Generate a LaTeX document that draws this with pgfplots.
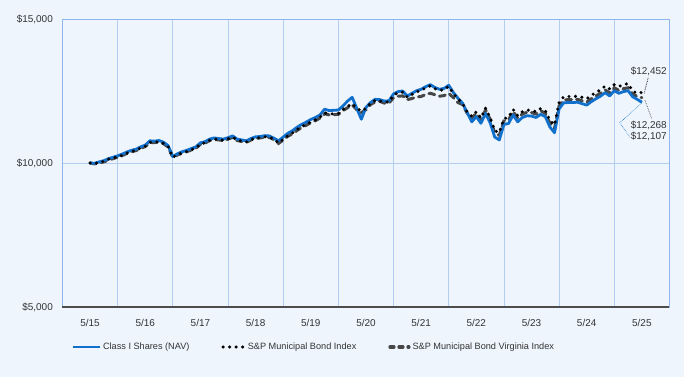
\documentclass[border=0pt]{standalone}
\usepackage{fontspec}
\setmainfont{Liberation Sans}
\usepackage{pgfplots}
\pgfplotsset{compat=1.18}
\definecolor{bg}{HTML}{EEF5FD}
\definecolor{gridc}{HTML}{B3CDEF}
\definecolor{axc}{HTML}{8FB6EA}
\definecolor{classI}{HTML}{1170CC}
\definecolor{vagray}{HTML}{474747}
\definecolor{txt}{HTML}{333333}
\pgfplotsset{
  legA/.style={legend image code/.code={\draw[##1] (0bp,0bp) -- (27bp,0bp);}},
  legB/.style={legend image code/.code={\draw[##1] (1bp,0bp) -- (22bp,0bp);}},
  legC/.style={legend image code/.code={\draw[##1] (1bp,0bp) -- (20bp,0bp);}},
}
\begin{document}
\begin{tikzpicture}
\fill[bg] (0,0) rectangle (684bp,377bp);
\useasboundingbox (0,0) rectangle (684bp,377bp);
\begin{axis}[
  at={(62bp,70bp)}, anchor=south west,
  scale only axis, width=607bp, height=288bp,
  xmin=-6.1, xmax=125.9, ymin=5000, ymax=15000,
  clip=false,
  scaled y ticks=false,
  axis line style={draw=axc, line width=0.8bp},
  xtick={0,12,...,120},
  xticklabels={5/15,5/16,5/17,5/18,5/19,5/20,5/21,5/22,5/23,5/24,5/25},
  minor xtick={6,18,...,114},
  xminorgrids=true,
  ytick={5000,10000,15000},
  yticklabels={{\$5,000},{\$10,000},{\$15,000}},
  ymajorgrids=true,
  grid style={draw=gridc, line width=0.8bp},
  minor grid style={draw=gridc, line width=0.8bp},
  major tick length=0pt, minor tick length=0pt,
  tick style={draw=none},
  ticklabel style={font=\fontsize{10}{12}\selectfont, text=txt},
  yticklabel style={inner sep=0pt, xshift=-9bp},
  xticklabel style={inner sep=0pt, yshift=-12bp},
  legend columns=3,
  legend cell align=left,
  legend style={draw=none, fill=none, at={(0.010,-0.139)}, anchor=west,
    font=\fontsize{9.2}{11}\selectfont, text=txt,
    /tikz/every even column/.append style={column sep=30bp}},
]
\addlegendimage{classI, line width=2.8bp, legA}
\addlegendentry{Class I Shares (NAV)}
\addlegendimage{black, line width=3.4bp, line cap=round, dash pattern=on 0bp off 6.5bp, legB}
\addlegendentry{S\&P Municipal Bond Index}
\addlegendimage{vagray, line width=3.2bp, line cap=round, dash pattern=on 4bp off 5bp, legC}
\addlegendentry{S\&P Municipal Bond Virginia Index}

% S&P Municipal Bond Virginia Index
\addplot[forget plot, vagray, line width=3bp, line cap=round, dash pattern=on 6bp off 5bp] table {
0 10000
1 9970
2 10000
3 10040
4 10100
5 10150
6 10200
7 10260
8 10330
9 10390
10 10430
11 10510
12 10570
13 10710
14 10710
15 10730
16 10670
17 10550
18 10190
19 10280
20 10340
21 10390
22 10450
23 10510
24 10650
25 10690
26 10780
27 10820
28 10800
29 10780
30 10830
31 10890
32 10780
33 10750
34 10720
35 10800
36 10860
37 10870
38 10900
39 10890
40 10810
41 10680
42 10800
43 10930
44 11010
45 11130
46 11230
47 11310
48 11400
49 11470
50 11560
51 11710
52 11670
53 11680
54 11690
55 11820
56 11920
57 12020
58 11850
59 11750
60 11850
61 12030
62 12120
63 12140
64 12080
65 12080
66 12270
67 12320
68 12330
69 12200
70 12240
71 12290
72 12310
73 12380
74 12420
75 12370
76 12320
77 12340
78 12420
79 12270
80 12100
81 12030
82 11730
83 11550
84 11730
85 11500
86 11840
87 11520
88 11050
89 10960
90 11460
91 11490
92 11790
93 11550
94 11700
95 11760
96 11750
97 11700
98 11810
99 11730
100 11380
101 11200
102 11980
103 12190
104 12200
105 12200
106 12210
107 12160
108 12110
109 12230
110 12330
111 12420
112 12540
113 12430
114 12610
115 12520
116 12580
117 12610
118 12400
119 12310
120 12268
};

% Class I Shares (NAV)
\addplot[forget plot, classI, line width=2.8bp, line join=round] table {
0 10000
1 9990
2 10040
3 10080
4 10150
5 10200
6 10250
7 10310
8 10380
9 10440
10 10480
11 10560
12 10620
13 10770
14 10760
15 10780
16 10720
17 10600
18 10220
19 10320
20 10390
21 10440
22 10500
23 10560
24 10700
25 10740
26 10830
27 10870
28 10850
29 10830
30 10880
31 10940
32 10830
33 10800
34 10770
35 10850
36 10910
37 10920
38 10950
39 10940
40 10860
41 10770
42 10900
43 11030
44 11120
45 11240
46 11340
47 11420
48 11510
49 11580
50 11670
51 11870
52 11820
53 11830
54 11840
55 11980
56 12150
57 12280
58 11900
59 11520
60 11930
61 12100
62 12210
63 12200
64 12150
65 12160
66 12400
67 12480
68 12500
69 12320
70 12420
71 12510
72 12560
73 12650
74 12720
75 12620
76 12560
77 12590
78 12700
79 12450
80 12250
81 12080
82 11750
83 11430
84 11610
85 11380
86 11720
87 11400
88 10900
89 10800
90 11340
91 11370
92 11670
93 11430
94 11580
95 11640
96 11630
97 11580
98 11690
99 11610
100 11250
101 11050
102 11880
103 12090
104 12100
105 12100
106 12110
107 12060
108 12010
109 12130
110 12230
111 12320
112 12440
113 12330
114 12510
115 12420
116 12480
117 12510
118 12300
119 12210
120 12107
};

% S&P Municipal Bond Index
\addplot[forget plot, black, line width=3.4bp, line cap=round, dash pattern=on 0bp off 6.5bp] table {
0 10000
1 9980
2 10020
3 10060
4 10130
5 10180
6 10210
7 10270
8 10340
9 10400
10 10440
11 10520
12 10580
13 10720
14 10720
15 10740
16 10680
17 10560
18 10200
19 10290
20 10350
21 10400
22 10460
23 10520
24 10660
25 10700
26 10790
27 10830
28 10810
29 10790
30 10840
31 10900
32 10790
33 10760
34 10730
35 10810
36 10870
37 10880
38 10910
39 10900
40 10820
41 10700
42 10820
43 10950
44 11040
45 11160
46 11260
47 11340
48 11430
49 11500
50 11590
51 11740
52 11700
53 11710
54 11720
55 11860
56 11960
57 12060
58 11900
59 11800
60 11900
61 12080
62 12170
63 12160
64 12110
65 12120
66 12360
67 12440
68 12460
69 12280
70 12380
71 12470
72 12520
73 12610
74 12680
75 12580
76 12520
77 12550
78 12660
79 12410
80 12230
81 12060
82 11780
83 11620
84 11780
85 11560
86 11900
87 11580
88 11120
89 11060
90 11540
91 11580
92 11860
93 11640
94 11780
95 11840
96 11820
97 11780
98 11890
99 11820
100 11480
101 11320
102 12100
103 12300
104 12310
105 12310
106 12320
107 12280
108 12230
109 12350
110 12450
111 12540
112 12670
113 12570
114 12720
115 12660
116 12720
117 12760
118 12500
119 12420
120 12452
};

% bottom axis line
\draw[gray!60!black, line width=1.2bp] (rel axis cs:0,0) -- (rel axis cs:1,0);

% end-value annotations
\draw[black, line width=0.7bp, densely dotted] (axis cs:120.5,12420) -- (axis cs:121.4,12976);
\node[font=\fontsize{10}{12}\selectfont, text=txt, inner sep=0pt] at (axis cs:121.5,13170) {\$12,452};
\draw[vagray, line width=0.7bp, densely dotted] (axis cs:120.65,12188) -- (axis cs:122.1,11552);
\node[font=\fontsize{10}{12}\selectfont, text=txt, inner sep=0pt] at (axis cs:121.5,11320) {\$12,268};
\draw[classI, line width=0.6bp, densely dotted] (axis cs:119.9,12073) -- (axis cs:115.2,11400) -- (axis cs:117.4,10893);
\node[font=\fontsize{10}{12}\selectfont, text=txt, inner sep=0pt] at (axis cs:121.5,10938) {\$12,107};
\end{axis}
\end{tikzpicture}
\end{document}
